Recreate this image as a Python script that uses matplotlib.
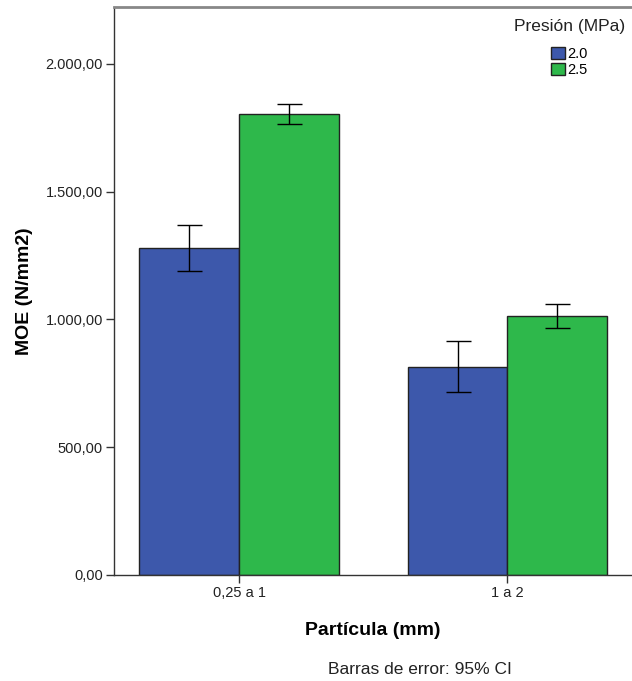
import numpy as np
import matplotlib.pyplot as plt
from matplotlib.ticker import FuncFormatter

plt.rcParams['font.family'] = ['Liberation Sans', 'DejaVu Sans']

categories = ['0,25 a 1', '1 a 2']
presion = ['2.0', '2.5']
moe_20 = [1280, 814]
moe_25 = [1804, 1015]
ci_20 = [(1189, 1369), (715, 915)]
ci_25 = [(1766, 1842), (966, 1062)]
colors = ['#3D58AB', '#2EB84B']

fig = plt.figure(figsize=(6.32, 6.81), dpi=100)
ax = fig.add_axes([0.1804, 0.1557, 0.8196, 0.834])

x = np.arange(len(categories))
w = 0.371
for off, vals, ci, col, lab in [(-w / 2, moe_20, ci_20, colors[0], presion[0]),
                                (w / 2, moe_25, ci_25, colors[1], presion[1])]:
    ax.bar(x + off, vals, width=w, color=col, edgecolor='#222222', linewidth=1,
           label=lab, zorder=2)
    lo = [v - c[0] for v, c in zip(vals, ci)]
    hi = [c[1] - v for v, c in zip(vals, ci)]
    ax.errorbar(x + off, vals, yerr=[lo, hi], fmt='none', ecolor='black',
                elinewidth=1, capsize=9, capthick=1, zorder=3)

ax.set_xlim(-0.466, 1.465)
ax.set_ylim(0, 2223)
ax.set_xticks(x)
ax.set_xticklabels(categories)
ax.set_yticks([0, 500, 1000, 1500, 2000])


def fmt(v, pos):
    s = f'{v:,.2f}'
    return s.replace(',', 'X').replace('.', ',').replace('X', '.')


ax.yaxis.set_major_formatter(FuncFormatter(fmt))
ax.tick_params(axis='both', labelsize=10.5, length=6, width=1, color='#333333',
               labelcolor='#222222', pad=2)

for s in ['left', 'bottom']:
    ax.spines[s].set_color('#333333')
    ax.spines[s].set_linewidth(1)
ax.spines['top'].set_color('#888888')
ax.spines['top'].set_linewidth(2)
ax.spines['right'].set_visible(False)

ax.set_ylabel('MOE (N/mm2)', fontsize=14, fontweight='bold', labelpad=9)
ax.set_xlabel('Partícula (mm)', fontsize=14, fontweight='bold', labelpad=16)

# legend title drawn separately so the gap below it matches the reference
fig.text(570 / 632, 1 - 27 / 681, 'Presión (MPa)', fontsize=12.5,
         ha='center', va='center', color='#222222')
leg = ax.legend(loc='upper center', bbox_to_anchor=(569 / 632, 1 - 47 / 681),
                bbox_transform=fig.transFigure, frameon=False, fontsize=10.5,
                handlelength=1.0, handleheight=0.9, handletextpad=0.1,
                labelspacing=0.15, borderaxespad=0, borderpad=0)

fig.text(420 / 632, 1 - 669 / 681, 'Barras de error: 95% CI', fontsize=12.5,
         ha='center', va='center', color='#222222')

fig.savefig('out.png', dpi=100)
